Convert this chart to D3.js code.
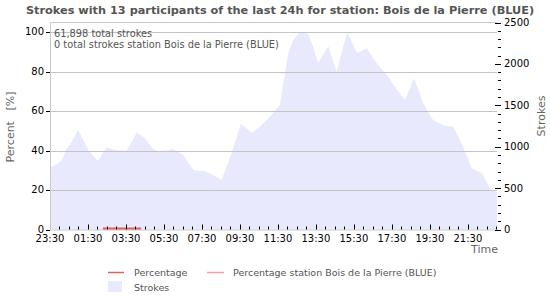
<!DOCTYPE html>
<html>
<head>
<meta charset="utf-8">
<script src="https://cdn.jsdelivr.net/npm/d3@7"></script>
<style>
body{margin:0;background:#fff;}
text{font-family:"DejaVu Sans",sans-serif;}
</style>
</head>
<body>
<svg id="chart" width="550" height="300"></svg>
<script>
// minutes after 23:30 and strokes per bin
var strokeMinutes = [0,26,37,53,69,89,121,151,179,205,242,274,300,326,347,389,421,453,484,516,542,574,603,639,663,694,726,742,753,768,789,816,831,847,879,905,939,970,1000,1032,1068,1089,1121,1150,1179,1210,1247,1274,1305,1332,1364,1393,1412]
var strokeValues = [743,800,839,978,1060,1202,960,831,993,960,952,1169,1101,969,940,972,900,719,707,658,598,924,1274,1169,1242,1362,1504,1890,2128,2289,2389,2361,2208,2015,2217,1906,2389,2128,2189,2008,1846,1725,1564,1826,1524,1323,1254,1242,1000,739,679,477,453]
var pctMinutes = [167,288]
var pctValues = [0,0]
var xTickLabels = ["23:30","01:30","03:30","05:30","07:30","09:30","11:30","13:30","15:30","17:30","19:30","21:30"]
var leftTicks = [0,20,40,60,80,100]
var rightTicks = [0,500,1000,1500,2000,2500]

var svg = d3.select("#chart")
var plot = {x:50, y:22.5, w:447, h:207}

var x = d3.scaleLinear().domain([0,1412]).range([plot.x, plot.x+plot.w])
var yL = d3.scaleLinear().domain([0,105]).range([plot.y+plot.h, plot.y])
var yR = d3.scaleLinear().domain([0,2500]).range([plot.y+plot.h, plot.y])

// title
svg.append("text")
  .attr("x",280).attr("y",14)
  .style("text-anchor","middle")
  .style("font-weight","bold")
  .style("font-size","11.3px")
  .style("fill","#555")
  .text("Strokes with 13 participants of the last 24h for station: Bois de la Pierre (BLUE)")

// strokes area
var pts = strokeMinutes.map(function(m,i){return [m, strokeValues[i]]})
var area = d3.area()
  .x(function(d){return x(d[0])})
  .y0(yR(0))
  .y1(function(d){return yR(d[1])})
svg.append("path")
  .datum(pts)
  .attr("d",area)
  .style("fill","#e9e9fd")

// grid lines
svg.append("g").selectAll("line")
  .data(leftTicks.filter(function(d){return d>0}))
  .enter().append("line")
  .attr("x1",plot.x).attr("x2",plot.x+plot.w)
  .attr("y1",function(d){return Math.round(yL(d))+0.5})
  .attr("y2",function(d){return Math.round(yL(d))+0.5})
  .style("stroke","#c4c4c4")

// frame
svg.append("path")
  .attr("d","M"+(plot.x+0.5)+","+(plot.y+plot.h)+"V"+plot.y+"H"+(plot.x+plot.w))
  .style("fill","none").style("stroke","#c8c8c8")
svg.append("line")
  .attr("x1",plot.x).attr("x2",plot.x+plot.w)
  .attr("y1",plot.y+plot.h+0.5).attr("y2",plot.y+plot.h+0.5)
  .style("stroke","#c8c8c8")

// percentage line
svg.append("path")
  .datum(pctMinutes.map(function(m,i){return [m,pctValues[i]]}))
  .attr("d",d3.line().x(function(d){return x(d[0])}).y(function(d){return yL(d[1])-1}))
  .style("fill","none").style("stroke","#e06060").style("stroke-width",2)

// left axis
var gl = svg.append("g")
gl.selectAll("line").data(leftTicks).enter().append("line")
  .attr("x1",plot.x-4).attr("x2",plot.x)
  .attr("y1",function(d){return Math.round(yL(d))+0.5})
  .attr("y2",function(d){return Math.round(yL(d))+0.5})
  .style("stroke","#000")
gl.selectAll("text").data(leftTicks).enter().append("text")
  .attr("x",plot.x-6)
  .attr("y",function(d){return yL(d)+3})
  .style("text-anchor","end").style("font-size","10px").style("fill","#000")
  .text(function(d){return d})

// right axis
var minor = d3.range(0,2501,100)
var gr = svg.append("g")
gr.selectAll("line").data(minor).enter().append("line")
  .attr("x1",function(d){return d%500==0 ? plot.x+plot.w-2 : plot.x+plot.w+1})
  .attr("x2",plot.x+plot.w+4)
  .attr("y1",function(d){return Math.round(yR(d))+0.5})
  .attr("y2",function(d){return Math.round(yR(d))+0.5})
  .style("stroke","#000")
gr.selectAll("text").data(rightTicks).enter().append("text")
  .attr("x",plot.x+plot.w+7)
  .attr("y",function(d){return yR(d)+3.5})
  .style("font-size","10px").style("fill","#000")
  .text(function(d){return d})

// x axis
var xMinor = d3.range(30,1412,30)
var gx = svg.append("g")
gx.selectAll("line").data(xMinor).enter().append("line")
  .attr("x1",function(d){return Math.round(x(d))+0.5})
  .attr("x2",function(d){return Math.round(x(d))+0.5})
  .attr("y1",plot.y+plot.h)
  .attr("y2",function(d){return plot.y+plot.h-(d%120==0 ? 5 : 3)})
  .style("stroke","#000")
gx.selectAll("text").data(xTickLabels).enter().append("text")
  .attr("x",function(d,i){return x(i*120)})
  .attr("y",242)
  .style("text-anchor","middle").style("font-size","10px").style("fill","#000")
  .text(function(d){return d})

// axis titles
svg.append("text")
  .attr("transform","translate(14,127) rotate(-90)")
  .style("text-anchor","middle").style("font-size","11px").style("fill","#666")
  .attr("xml:space","preserve")
  .text("Percent   [%]")
svg.append("text")
  .attr("transform","translate(545,116) rotate(-90)")
  .style("text-anchor","middle").style("font-size","11px").style("fill","#666")
  .text("Strokes")
svg.append("text")
  .attr("x",498).attr("y",253)
  .style("text-anchor","end").style("font-size","11px").style("fill","#666")
  .text("Time")

// info text
svg.append("text").attr("x",54).attr("y",37)
  .style("font-size","9.8px").style("fill","#555")
  .text("61,898 total strokes")
svg.append("text").attr("x",54).attr("y",48)
  .style("font-size","9.8px").style("fill","#555")
  .text("0 total strokes station Bois de la Pierre (BLUE)")

// legend
var lg = svg.append("g").style("font-size","9.5px").style("fill","#555")
lg.append("line").attr("x1",108).attr("x2",124).attr("y1",272.5).attr("y2",272.5)
  .style("stroke","#e06060").style("stroke-width",1.5)
lg.append("text").attr("x",134).attr("y",276).text("Percentage")
lg.append("line").attr("x1",207).attr("x2",224).attr("y1",272.5).attr("y2",272.5)
  .style("stroke","#f4a0a0").style("stroke-width",1.5)
lg.append("text").attr("x",233).attr("y",276).text("Percentage station Bois de la Pierre (BLUE)")
lg.append("rect").attr("x",108).attr("y",281).attr("width",14).attr("height",11)
  .style("fill","#e9e9fd")
lg.append("text").attr("x",134).attr("y",291).text("Strokes")
</script>
</body>
</html>
